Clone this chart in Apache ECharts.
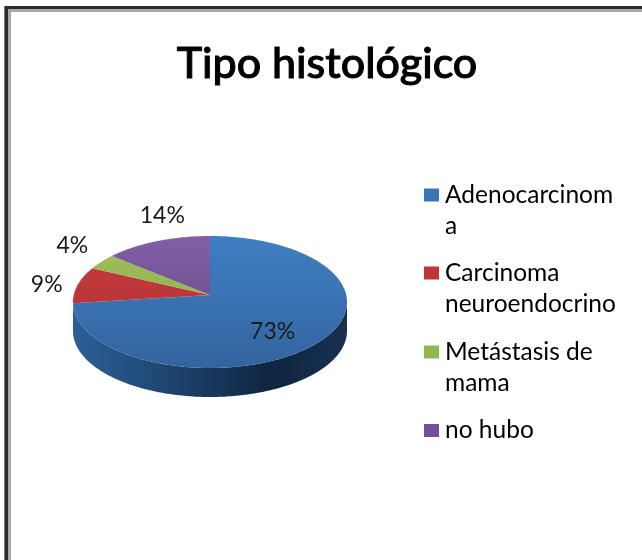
<!DOCTYPE html>
<html>
<head>
<meta charset="utf-8">
<style>html,body{margin:0;padding:0;background:#fff}#c{width:642px;height:560px}</style>
<script src="https://cdn.jsdelivr.net/npm/echarts@6/dist/echarts.min.js"></script>
</head>
<body>
<div id="c"></div>
<script>
const categories = ['Adenocarcinoma', 'Carcinoma neuroendocrino', 'Metástasis de mama', 'no hubo'];
const values = [73, 9, 4, 14];
const legendLines = ['Adenocarcinom\na', 'Carcinoma\nneuroendocrino', 'Metástasis de\nmama', 'no hubo'];
const titleText = 'Tipo histológico';

const legendColors = ['#3a74b4', '#bf3636', '#93b44e', '#70529a'];
const topShades = [
  ['#3f7fc2', '#33649f'], ['#cb3b3c', '#a93236'],
  ['#a0c05c', '#86a83f'], ['#835ea6', '#60467f']
];
const sideStops = [
  [0, '#2c5f98'], [0.35, '#1e4570'], [0.72, '#0f2540'], [1, '#16314f']
];
const pie = { cx: 210, cy: 302, rx: 137, ry: 66, depth: 29, apexLift: 7 };
const labelOffsets = [[-47, -10], [-31, 0], [-29, -16], [5, -25]];
const legendTops = [180, 258, 337, 415];

const total = values.reduce((a, b) => a + b, 0);
const rad = d => d * Math.PI / 180;
const edge = (deg, dy) => [
  pie.cx + pie.rx * Math.sin(rad(deg)),
  pie.cy - pie.ry * Math.cos(rad(deg)) + (dy || 0)
];
const arc = (from, to, dy) => {
  const pts = [];
  for (let a = from; a < to; a += 1) pts.push(edge(a, dy));
  pts.push(edge(to, dy));
  return pts;
};
// The slices meet at an apex above the ellipse centre (perspective): a value angle is
// cast as a ray from the apex and converted to the angle of its hit on the rim.
function rimAngle(deg) {
  if (deg <= 0) return 0;
  if (deg >= 360) return 360;
  const sx = Math.sin(rad(deg)), sy = -Math.cos(rad(deg));
  const k = pie.apexLift / pie.ry;
  const A = sx * sx + sy * sy, B = -2 * k * sy, C = k * k - 1;
  const t = (-B + Math.sqrt(B * B - 4 * A * C)) / (2 * A);
  const ux = t * sx, uy = t * sy - k;
  const out = Math.atan2(ux, -uy) * 180 / Math.PI;
  return out < 0 ? out + 360 : out;
}

function renderSlice(index) {
  return function (params, api) {
    const value = api.value(0);
    let start = 0;
    for (let i = 0; i < index; i++) start += values[i];
    const a0 = rimAngle(start / total * 360);
    const a1 = rimAngle((start + value) / total * 360);
    const mid = rimAngle((start + value / 2) / total * 360);
    const children = [];
    const s0 = Math.max(a0, 90), s1 = Math.min(a1, 270);
    if (s1 > s0) {
      children.push({
        type: 'polygon',
        shape: { points: arc(s0, s1, 0).concat(arc(s0, s1, pie.depth).reverse()) },
        style: {
          fill: new echarts.graphic.LinearGradient(
            pie.cx - pie.rx, 0, pie.cx + pie.rx, 0,
            sideStops.map(s => ({ offset: s[0], color: s[1] })), true)
        }
      });
    }
    children.push({
      type: 'polygon',
      shape: { points: [[pie.cx, pie.cy - pie.apexLift]].concat(arc(a0, a1, 0)) },
      style: {
        fill: new echarts.graphic.LinearGradient(
          0, pie.cy - pie.ry, 0, pie.cy + pie.ry,
          [{ offset: 0, color: topShades[index][0] }, { offset: 1, color: topShades[index][1] }], true)
      }
    });
    const anchor = edge(mid, 0);
    children.push({
      type: 'text',
      z2: 50,
      style: {
        x: anchor[0] + labelOffsets[index][0],
        y: anchor[1] + labelOffsets[index][1],
        text: Math.round(value / total * 100) + '%',
        fill: '#1a1a1a',
        font: '23px Lato',
        align: 'center',
        verticalAlign: 'middle'
      }
    });
    return { type: 'group', children };
  };
}

const chart = echarts.init(document.getElementById('c'), null, { renderer: 'canvas' });
chart.setOption({
  animation: false,
  backgroundColor: '#ffffff',
  title: {
    text: titleText,
    left: 322,
    top: 38,
    textAlign: 'center',
    textStyle: { fontFamily: 'Lato', fontSize: 43, fontWeight: 500, color: '#000', textBorderColor: '#000', textBorderWidth: 1 }
  },
  legend: categories.map((name, i) => {
    const twoLines = legendLines[i].indexOf('\n') >= 0;
    return {
      data: [name],
      left: 424,
      top: legendTops[i],
      padding: 0,
      orient: 'vertical',
      selectedMode: false,
      itemWidth: 15,
      itemHeight: twoLines ? 45 : 13,
      itemGap: 0,
      symbolKeepAspect: false,
      icon: twoLines ? 'path://M0,0H15V13H0Z M0,45h0' : 'rect',
      formatter: () => legendLines[i],
      textStyle: { fontFamily: 'Lato', fontSize: 24.5, lineHeight: 31, color: '#000', padding: [0, 0, 0, 1] }
    };
  }),
  series: categories.map((name, i) => ({
    type: 'custom',
    name,
    coordinateSystem: 'none',
    silent: true,
    itemStyle: { color: legendColors[i] },
    renderItem: renderSlice(i),
    data: [[values[i]]]
  })),
  graphic: [
    { type: 'rect', silent: true, z: 100, shape: { x: 4, y: 6, width: 2, height: 554 }, style: { fill: '#777' } },
    { type: 'rect', silent: true, z: 100, shape: { x: 5, y: 6, width: 3, height: 554 }, style: { fill: '#2c2c2c' } },
    { type: 'rect', silent: true, z: 100, shape: { x: 8, y: 9, width: 3, height: 551 }, style: { fill: '#a8a8a8' } },
    { type: 'rect', silent: true, z: 100, shape: { x: 5, y: 6, width: 637, height: 3 }, style: { fill: '#2c2c2c' } },
    { type: 'rect', silent: true, z: 100, shape: { x: 8, y: 9, width: 634, height: 3 }, style: { fill: '#a8a8a8' } }
  ]
});
</script>
</body>
</html>
